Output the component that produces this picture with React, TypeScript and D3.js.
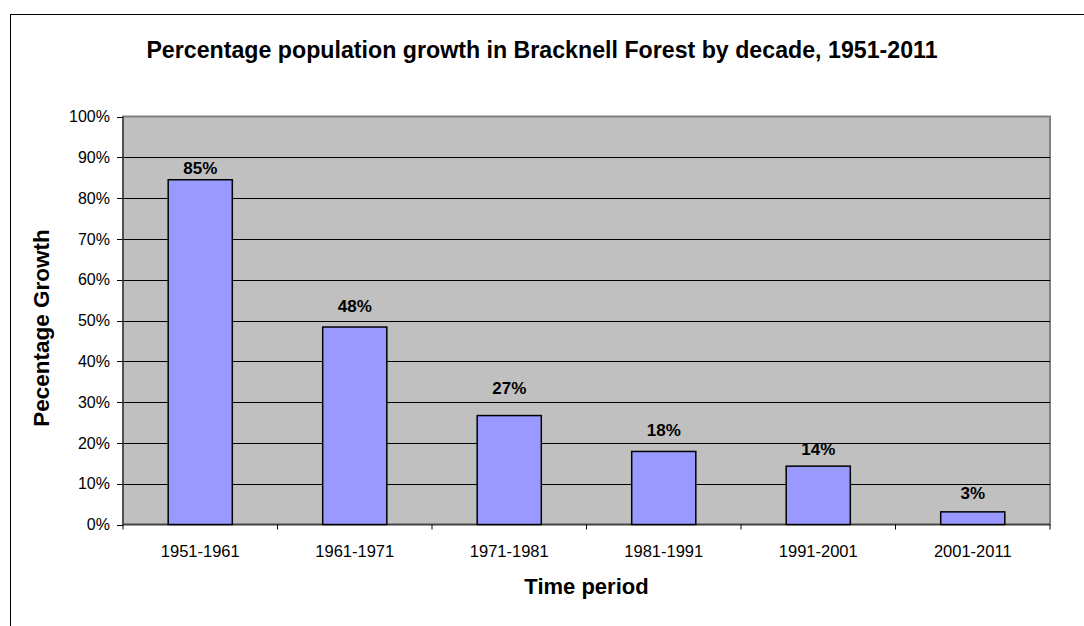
import React from "react";
import * as d3 from "d3";

const categories = ["1951-1961", "1961-1971", "1971-1981", "1981-1991", "1991-2001", "2001-2011"];
const growth = [84.5, 48.4, 26.7, 17.9, 14.3, 3.1];
// gap (px) between the top of each bar and its label baseline, as placed in the original
const labelGap = [6, 15.5, 22, 15, 11, 12.5];
const yTicks = [0, 10, 20, 30, 40, 50, 60, 70, 80, 90, 100];

const W = 1084;
const H = 626;
const plot = { left: 123, right: 1050, top: 116.5, bottom: 524.5 };
const font = "Arial, 'Liberation Sans', sans-serif";

export default function App() {
  const x = d3.scaleBand<string>().domain(categories).range([plot.left, plot.right]).paddingInner(0.585).paddingOuter(0.2925);
  const xOuter = d3.scaleBand<string>().domain(categories).range([plot.left, plot.right]);
  const y = d3.scaleLinear().domain([0, 100]).range([plot.bottom, plot.top]);

  return (
    <svg width={W} height={H} style={{ position: "absolute", left: 0, top: 0, background: "#fff" }} fontFamily={font}>
      <rect x={10.5} y={14.5} width={1200} height={800} fill="#fff" stroke="#000" strokeWidth={1} />
      <text x={542} y={58} textAnchor="middle" fontSize={23.2} fontWeight="bold" fill="#000">
        Percentage population growth in Bracknell Forest by decade, 1951-2011
      </text>
      <rect x={plot.left} y={plot.top} width={plot.right - plot.left} height={plot.bottom - plot.top} fill="#C0C0C0" stroke="#808080" strokeWidth={2} />
      {yTicks.slice(1, -1).map((t) => (
        <line key={t} x1={plot.left} x2={plot.right} y1={Math.round(y(t)) + 0.5} y2={Math.round(y(t)) + 0.5} stroke="#000" strokeWidth={1} />
      ))}
      {yTicks.map((t) => (
        <g key={"yt" + t}>
          <line x1={plot.left - 6} x2={plot.left} y1={Math.round(y(t)) + 0.5} y2={Math.round(y(t)) + 0.5} stroke="#000" strokeWidth={1} />
          <text x={110} y={y(t)} dy="0.36em" textAnchor="end" fontSize={16} fill="#000">{t}%</text>
        </g>
      ))}
      <line x1={plot.left} x2={plot.left} y1={plot.top} y2={plot.bottom} stroke="#404040" strokeWidth={1.5} />
      <line x1={plot.left} x2={plot.right} y1={plot.bottom} y2={plot.bottom} stroke="#404040" strokeWidth={1.5} />
      {categories.map((c) => (
        <line key={"xt" + c} x1={xOuter(c) as number} x2={xOuter(c) as number} y1={plot.bottom} y2={plot.bottom + 5} stroke="#000" strokeWidth={1} />
      ))}
      <line x1={plot.right} x2={plot.right} y1={plot.bottom} y2={plot.bottom + 5} stroke="#000" strokeWidth={1} />
      {categories.map((c, i) => (
        <g key={c}>
          <rect x={x(c)} y={y(growth[i])} width={x.bandwidth()} height={plot.bottom - y(growth[i])} fill="#9999FF" stroke="#000" strokeWidth={1.5} />
          <text x={(x(c) as number) + x.bandwidth() / 2} y={y(growth[i]) - labelGap[i]} textAnchor="middle" fontSize={17} fontWeight="bold" fill="#000">
            {Math.round(growth[i])}%
          </text>
          <text x={(xOuter(c) as number) + xOuter.bandwidth() / 2} y={557} textAnchor="middle" fontSize={16.5} fill="#000">{c}</text>
        </g>
      ))}
      <text x={(plot.left + plot.right) / 2} y={594} textAnchor="middle" fontSize={22} fontWeight="bold" fill="#000">Time period</text>
      <text transform={`translate(49,${328}) rotate(-90)`} textAnchor="middle" fontSize={22.5} fontWeight="bold" fill="#000">Pecentage Growth</text>
    </svg>
  );
}
